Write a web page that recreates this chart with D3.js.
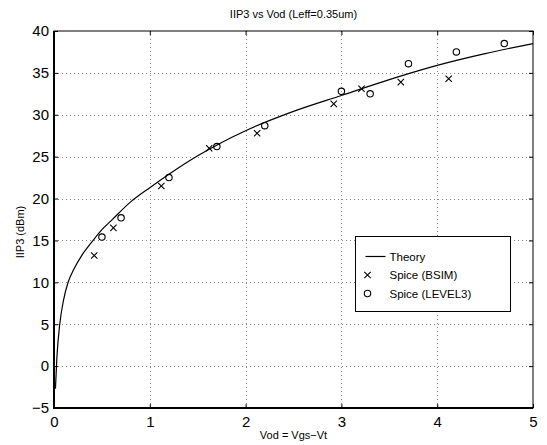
<!DOCTYPE html>
<html>
<head>
<meta charset="utf-8">
<script src="https://cdn.jsdelivr.net/npm/d3@7"></script>
<style>
  body { margin: 0; background: #fff; }
  text { font-family: "Liberation Sans", Arial, Helvetica, sans-serif; fill: #000; }
</style>
</head>
<body>
<script>
// theory curve
var theoryVod = [0.015, 0.03, 0.06, 0.1, 0.15, 0.2, 0.3, 0.4, 0.5, 0.6, 0.8, 1.0, 1.2, 1.5, 1.75, 2.0, 2.5, 3.0, 3.5, 4.0, 4.5, 5.0];
var theoryIip3 = [-2.7, 1.0, 5.0, 7.9, 10.1, 11.4, 13.4, 14.9, 16.3, 17.4, 19.6, 21.3, 22.9, 25.1, 26.7, 28.1, 30.4, 32.3, 34.2, 35.9, 37.3, 38.5];

// spice BSIM (crosses)
var bsimVod = [0.42, 0.62, 1.12, 1.62, 2.12, 2.92, 3.21, 3.62, 4.12];
var bsimIip3 = [13.2, 16.5, 21.5, 26.0, 27.8, 31.3, 33.1, 33.9, 34.3];

// spice LEVEL3 (circles)
var lvl3Vod = [0.5, 0.7, 1.2, 1.7, 2.2, 3.0, 3.3, 3.7, 4.2, 4.7];
var lvl3Iip3 = [15.4, 17.7, 22.5, 26.2, 28.7, 32.8, 32.5, 36.1, 37.5, 38.5];

var xTicks = [0, 1, 2, 3, 4, 5];
var yTicks = [-5, 0, 5, 10, 15, 20, 25, 30, 35, 40];
var legendLabels = ["Theory", "Spice (BSIM)", "Spice (LEVEL3)"];

var margin = {top: 31, right: 14, bottom: 37, left: 54},
    width = 547 - margin.left - margin.right,
    height = 445 - margin.top - margin.bottom;

var x = d3.scaleLinear().domain([0, 5]).range([0, width]);
var y = d3.scaleLinear().domain([-5, 40]).range([height, 0]);

var svg = d3.select("body").append("svg")
    .attr("width", 547)
    .attr("height", 445);

var g = svg.append("g")
    .attr("transform", "translate(" + margin.left + "," + margin.top + ")");

// grid
g.append("g").selectAll("line")
    .data(xTicks.slice(1, -1))
    .enter().append("line")
    .attr("x1", function(d) { return Math.round(x(d)) + 0.5; })
    .attr("x2", function(d) { return Math.round(x(d)) + 0.5; })
    .attr("y1", 0).attr("y2", height)
    .attr("stroke", "#888").attr("stroke-dasharray", "1,3");
g.append("g").selectAll("line")
    .data(yTicks.slice(1, -1))
    .enter().append("line")
    .attr("y1", function(d) { return Math.round(y(d)) + 0.5; })
    .attr("y2", function(d) { return Math.round(y(d)) + 0.5; })
    .attr("x1", 0).attr("x2", width)
    .attr("stroke", "#888").attr("stroke-dasharray", "1,3");

// axes (ticks inward, matlab style)
var xAxis = g.append("g")
    .attr("transform", "translate(0," + height + ")")
    .call(d3.axisBottom(x).tickValues(xTicks).tickSizeInner(-4).tickSizeOuter(0).tickPadding(8)
      .tickFormat(d3.format("d")));
var yAxis = g.append("g")
    .call(d3.axisLeft(y).tickValues(yTicks).tickSizeInner(-4).tickSizeOuter(0).tickPadding(5)
      .tickFormat(function(d) { return d < 0 ? "\u2212" + (-d) : d; }));
g.append("g")
    .call(d3.axisTop(x).tickValues(xTicks).tickSizeInner(-4).tickSizeOuter(0).tickFormat(""));
g.append("g")
    .attr("transform", "translate(" + width + ",0)")
    .call(d3.axisRight(y).tickValues(yTicks).tickSizeInner(-4).tickSizeOuter(0).tickFormat(""));

svg.selectAll(".domain").remove();
svg.selectAll(".tick line").attr("stroke", "#000");
xAxis.selectAll("text").style("font-size", "15px").attr("dy", "0.71em");
yAxis.selectAll("text").style("font-size", "15px");

// frame
g.append("rect")
    .attr("x", 0).attr("y", 0)
    .attr("width", width).attr("height", height)
    .attr("fill", "none").attr("stroke", "#000").attr("stroke-width", 1);
g.append("path")
    .attr("d", "M0,0V" + height + "H" + width)
    .attr("fill", "none").attr("stroke", "#000").attr("stroke-width", 2);

// theory line
var theory = theoryVod.map(function(v, i) { return [v, theoryIip3[i]]; });
var line = d3.line()
    .x(function(d) { return x(d[0]); })
    .y(function(d) { return y(d[1]); })
    .curve(d3.curveMonotoneX);
g.append("path")
    .datum(theory)
    .attr("d", line)
    .attr("fill", "none").attr("stroke", "#000").attr("stroke-width", 1.2);

// crosses
var bsim = bsimVod.map(function(v, i) { return [v, bsimIip3[i]]; });
var cross = d3.symbol().type(d3.symbolX).size(28);
g.selectAll(".bsim")
    .data(bsim)
    .enter().append("path")
    .attr("class", "bsim")
    .attr("transform", function(d) { return "translate(" + x(d[0]) + "," + y(d[1]) + ")"; })
    .attr("d", cross)
    .attr("stroke", "#000").attr("fill", "none").attr("stroke-width", 1.1);

// circles
var lvl3 = lvl3Vod.map(function(v, i) { return [v, lvl3Iip3[i]]; });
g.selectAll(".lvl3")
    .data(lvl3)
    .enter().append("circle")
    .attr("class", "lvl3")
    .attr("cx", function(d) { return x(d[0]); })
    .attr("cy", function(d) { return y(d[1]); })
    .attr("r", 3.2)
    .attr("stroke", "#000").attr("fill", "none").attr("stroke-width", 1.1);

// title / labels
svg.append("text")
    .attr("x", margin.left + width / 2).attr("y", 18)
    .attr("text-anchor", "middle")
    .style("font-size", "11px")
    .text("IIP3 vs Vod (Leff=0.35um)");
svg.append("text")
    .attr("x", margin.left + width / 2).attr("y", 439)
    .attr("text-anchor", "middle")
    .style("font-size", "11px")
    .text("Vod = Vgs\u2212Vt");
svg.append("text")
    .attr("transform", "translate(24,232) rotate(-90)")
    .attr("text-anchor", "middle")
    .style("font-size", "11px")
    .text("IIP3 (dBm)");

// legend
var leg = svg.append("g").attr("transform", "translate(355.5,236.5)");
leg.append("rect")
    .attr("width", 155).attr("height", 75)
    .attr("fill", "#fff").attr("stroke", "#000");
var rows = leg.selectAll(".row")
    .data(legendLabels)
    .enter().append("g")
    .attr("transform", function(d, i) { return "translate(0," + (20 + i * 18.5) + ")"; });
rows.append("text")
    .attr("x", 34).attr("dy", "0.35em")
    .style("font-size", "11.5px")
    .text(function(d) { return d; });
rows.filter(function(d, i) { return i === 0; }).append("line")
    .attr("x1", 10).attr("x2", 30).attr("stroke", "#000").attr("stroke-width", 1.2);
rows.filter(function(d, i) { return i === 1; }).append("path")
    .attr("transform", "translate(12,0)")
    .attr("d", cross).attr("stroke", "#000").attr("fill", "none").attr("stroke-width", 1.1);
rows.filter(function(d, i) { return i === 2; }).append("circle")
    .attr("cx", 12).attr("r", 3.2).attr("stroke", "#000").attr("fill", "none").attr("stroke-width", 1.1);
</script>
</body>
</html>
